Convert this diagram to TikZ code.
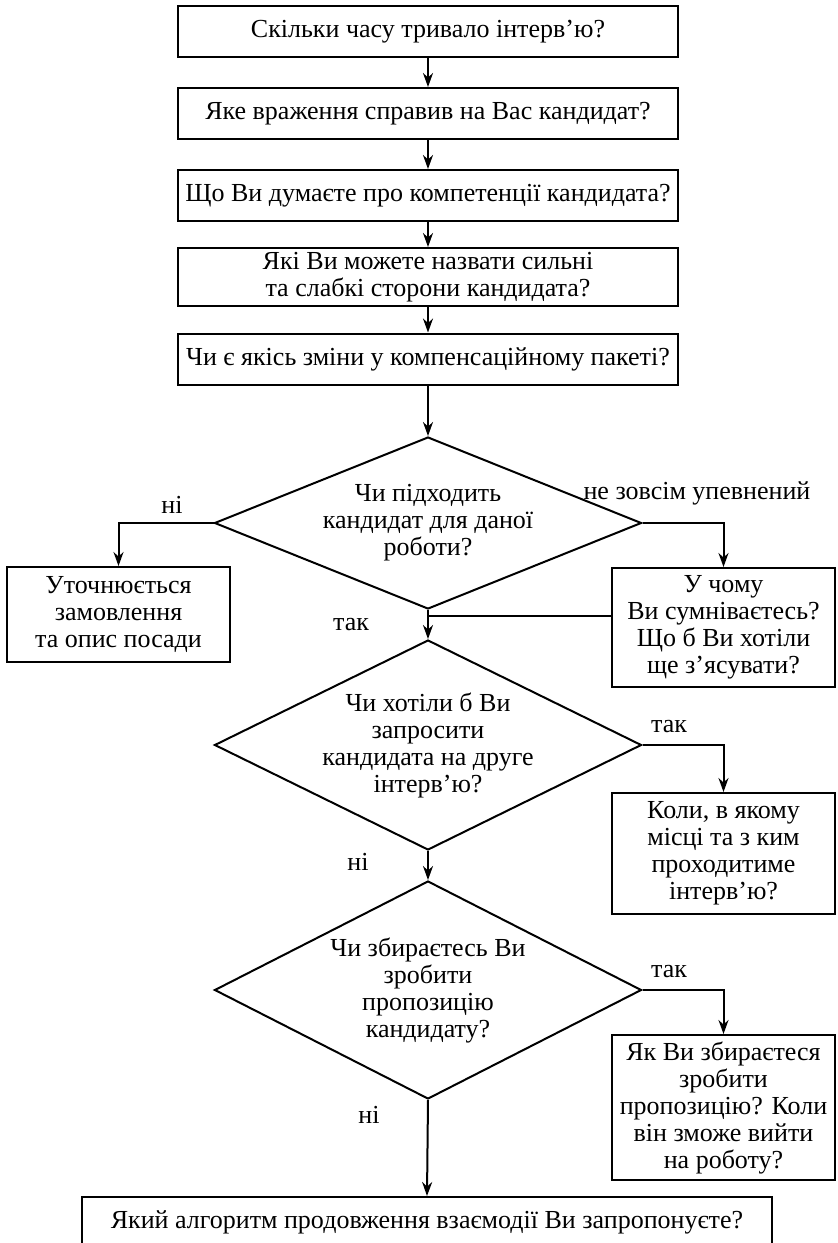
\documentclass[tikz,border=0pt]{standalone}
\usepackage{fontspec}
\setmainfont{Liberation Serif}
\usetikzlibrary{shapes.geometric,arrows.meta}

\begin{document}
\begin{tikzpicture}[x=0.5pt, y=-0.5pt, line width=1pt,
    >={Stealth[length=7pt,width=5pt]},
    every node/.style={font=\fontsize{13}{13.5}\selectfont, align=center},
    box/.style={draw, rectangle, inner sep=0pt, minimum width=250pt, minimum height=25.5pt},
    side/.style={draw, rectangle, inner sep=0pt, minimum width=111.5pt},
    decision/.style={draw, diamond, inner sep=-6pt, minimum width=213.5pt}]
        \useasboundingbox (0,0) rectangle (837,1243);

        % Питання по черзі
        \node[box] (q1) at (428,31.5) {Скільки часу тривало інтерв’ю?};
        \node[box] (q2) at (428,113.5) {Яке враження справив на Вас кандидат?};
        \node[box] (q3) at (428,195.5) {Що Ви думаєте про компетенції кандидата?};
        \node[box, minimum height=29pt] (q4) at (428,277) {Які Ви можете назвати сильні\\та слабкі сторони кандидата?};
        \node[box] (q5) at (428,359) {Чи є якісь зміни у компенсаційному пакеті?};

        % Ромби
        \node[decision, minimum height=86pt, aspect=2.48] (d1) at (428,523) {Чи підходить\\кандидат для даної\\роботи?};
        \node[decision, minimum height=105pt, aspect=2.03] (d2) at (428,745) {Чи хотіли б Ви\\запросити\\кандидата на друге\\інтерв’ю?};
        \node[decision, minimum height=109pt, aspect=1.96] (d3) at (428,990) {Чи збираєтесь Ви\\зробити\\пропозицію\\кандидату?};

        % Бічні блоки
        \node[side, minimum height=47.5pt] (lb) at (118.5,614.5) {Уточнюється\\замовлення\\та опис посади};
        \node[side, minimum height=59.5pt] (rb1) at (723.5,627.5) {У чому\\Ви сумніваєтесь?\\Що б Ви хотіли\\ще з’ясувати?};
        \node[side, minimum height=60.5pt] (rb2) at (723.5,853.5) {Коли, в якому\\місці та з ким\\проходитиме\\інтерв’ю?};
        \node[side, minimum height=72.5pt] (rb3) at (723.5,1107.5) {Як Ви збираєтеся\\зробити\\пропозицію? Коли\\він зможе вийти\\на роботу?};
        \node[box, minimum width=345pt] (q6) at (427,1222.5) {Який алгоритм продовження взаємодії Ви запропонуєте?};

        % Стрілки
        \draw[->] (q1.south) -- (q2.north);
        \draw[->] (q2.south) -- (q3.north);
        \draw[->] (q3.south) -- (q4.north);
        \draw[->] (q4.south) -- (q5.north);
        \draw[->] (q5.south) -- (d1.north);
        \draw[->] (d1.west) -| (lb.north);
        \draw[->] (d1.east) -| (rb1.north);
        \draw[->] (d1.south) -- (d2.north);
        \coordinate (join) at (428,616);
        \draw (rb1.west |- join) -- (join);
        \draw[->] (d2.east) -| (rb2.north);
        \draw[->] (d2.south) -- (d3.north);
        \draw[->] (d3.east) -| (rb3.north);
        \draw[->] (d3.south) -- (q6.north);

        % Підписи
        \node (no1) at (172,505) {ні};
        \node (unsure) at (697,493) {не зовсім упевнений};
        \node (yes1) at (351,625) {так};
        \node (yes2) at (669,727) {так};
        \node (no2) at (358,862) {ні};
        \node (yes3) at (669,972) {так};
        \node (no3) at (369,1115) {ні};
    \end{tikzpicture}
\end{document}
